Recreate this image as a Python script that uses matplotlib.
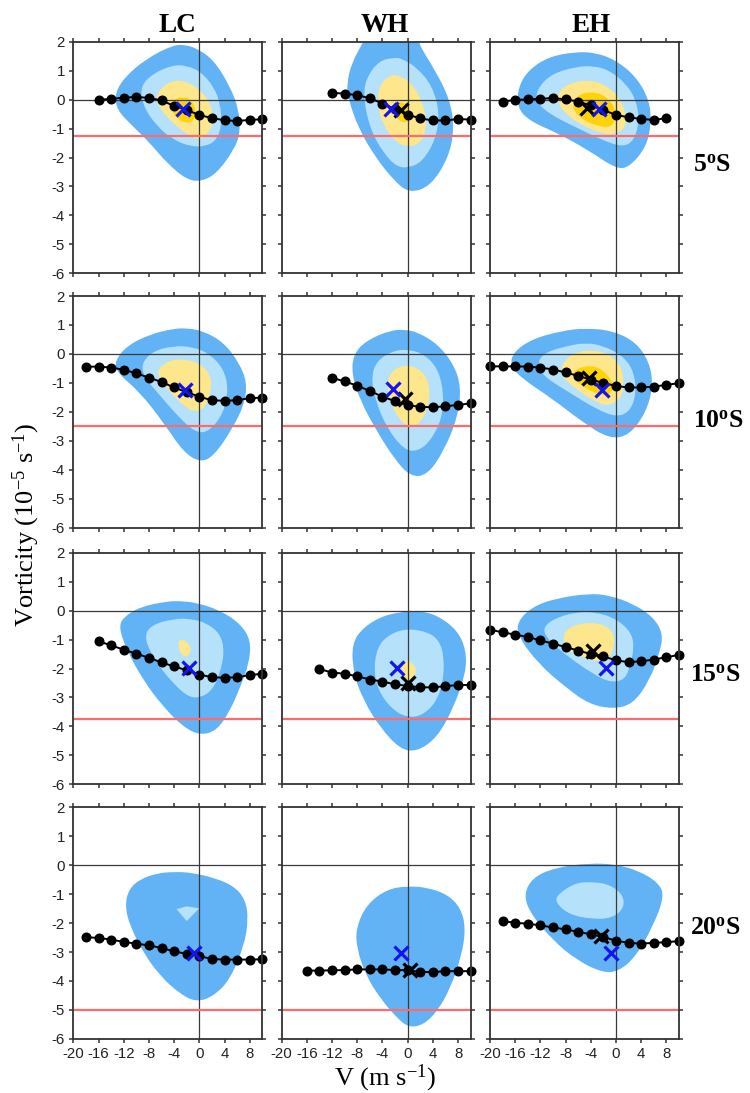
import matplotlib
matplotlib.use("Agg")
import matplotlib.pyplot as plt
from matplotlib.path import Path
from matplotlib.patches import PathPatch

plt.rcParams['axes.unicode_minus'] = False
plt.rcParams['mathtext.fontset'] = 'custom'
plt.rcParams['mathtext.rm'] = 'Liberation Serif'
plt.rcParams['mathtext.bf'] = 'Liberation Serif:bold'
plt.rcParams['mathtext.it'] = 'Liberation Serif:italic'

# ---------------- data ----------------
regions = ["LC", "WH", "EH"]
latitudes = ["5", "10", "15", "20"]
threshold = [-1.25, -2.5, -3.75, -5.0]
xticks = [-20, -16, -12, -8, -4, 0, 4, 8]
yticks = [2, 1, 0, -1, -2, -3, -4, -5, -6]

# dotted curves: first V of each curve (step 2 m/s) and vorticity values
v0_LC5, vort_LC5 = -16, [0.0, 0.02, 0.07, 0.09, 0.06, -0.03, -0.22, -0.36, -0.53, -0.64, -0.71, -0.74, -0.70, -0.68]
v0_WH5, vort_WH5 = -12, [0.23, 0.21, 0.15, 0.05, -0.14, -0.33, -0.52, -0.65, -0.72, -0.72, -0.67, -0.69]
v0_EH5, vort_EH5 = -18, [-0.07, -0.01, 0.01, 0.03, 0.05, 0.01, -0.07, -0.2, -0.36, -0.53, -0.61, -0.67, -0.70, -0.64]
v0_LC10, vort_LC10 = -18, [-0.44, -0.44, -0.47, -0.55, -0.67, -0.82, -0.97, -1.16, -1.32, -1.48, -1.6, -1.62, -1.6, -1.53, -1.51]
v0_WH10, vort_WH10 = -12, [-0.83, -0.95, -1.1, -1.28, -1.48, -1.63, -1.77, -1.83, -1.84, -1.81, -1.76, -1.71]
v0_EH10, vort_EH10 = -20, [-0.43, -0.43, -0.43, -0.44, -0.47, -0.54, -0.64, -0.76, -0.89, -1.0, -1.11, -1.16, -1.16, -1.13, -1.07, -1.01]
v0_LC15, vort_LC15 = -16, [-1.06, -1.2, -1.35, -1.49, -1.63, -1.79, -1.93, -2.06, -2.21, -2.3, -2.32, -2.3, -2.23, -2.18]
v0_WH15, vort_WH15 = -14, [-2.02, -2.14, -2.18, -2.27, -2.38, -2.45, -2.55, -2.6, -2.65, -2.65, -2.61, -2.57, -2.57]
v0_EH15, vort_EH15 = -20, [-0.66, -0.75, -0.83, -0.91, -1.03, -1.14, -1.26, -1.38, -1.5, -1.58, -1.72, -1.78, -1.75, -1.69, -1.61, -1.53]
v0_LC20, vort_LC20 = -18, [-2.49, -2.51, -2.57, -2.65, -2.71, -2.77, -2.86, -2.98, -3.06, -3.14, -3.24, -3.26, -3.26, -3.26, -3.25]
v0_WH20, vort_WH20 = -16, [-3.64, -3.64, -3.63, -3.62, -3.6, -3.6, -3.6, -3.62, -3.63, -3.69, -3.69, -3.66, -3.66, -3.66]
v0_EH20, vort_EH20 = -18, [-1.93, -1.99, -2.02, -2.08, -2.15, -2.22, -2.3, -2.39, -2.48, -2.61, -2.68, -2.71, -2.68, -2.66, -2.62]

# cross markers (V, vorticity); None = absent
bluex_LC5, blackx_LC5 = (-2.6, -0.33), None
bluex_WH5, blackx_WH5 = (-2.6, -0.33), (-1.0, -0.35)
bluex_EH5, blackx_EH5 = (-2.7, -0.33), (-4.6, -0.30)
bluex_LC10, blackx_LC10 = (-2.3, -1.25), None
bluex_WH10, blackx_WH10 = (-2.3, -1.22), (-0.4, -1.57)
bluex_EH10, blackx_EH10 = (-2.2, -1.23), (-4.3, -0.83)
bluex_LC15, blackx_LC15 = (-1.6, -1.98), None
bluex_WH15, blackx_WH15 = (-1.7, -1.98), (0.0, -2.51)
bluex_EH15, blackx_EH15 = (-1.6, -1.98), (-3.7, -1.41)
bluex_LC20, blackx_LC20 = (-0.9, -3.02), None
bluex_WH20, blackx_WH20 = (-1.1, -3.03), (0.3, -3.63)
bluex_EH20, blackx_EH20 = (-0.8, -3.03), (-2.4, -2.43)

# density contour outlines (V, vorticity), levels 1 (outer) .. 5 (inner)
lev1_LC5 = [(-4.1, 1.89), (-8.3, 1.43), (-11.8, 0.79), (-13.4, 0.22), (-13.1, -0.36), (-10.5, -0.93), (-7.8, -1.51), (-5.1, -2.2), (-2.0, -2.77), (0.4, -2.83), (2.8, -2.54), (5.5, -1.74), (6.5, -1.16), (6.3, -0.36), (4.9, 0.45), (2.3, 1.37), (-0.4, 1.77), (-2.2, 1.89)]
lev2_LC5 = [(-4.1, 1.2), (-7.3, 0.91), (-9.4, 0.45), (-8.9, -0.24), (-6.7, -0.93), (-4.1, -1.39), (-1.4, -1.62), (1.0, -1.62), (2.8, -1.39), (3.6, -0.82), (3.3, -0.13), (2.3, 0.45), (0.2, 0.97), (-2.0, 1.17)]
lev3_LC5 = [(-4.1, 0.68), (-6.2, 0.39), (-7.0, -0.01), (-5.7, -0.47), (-3.6, -0.93), (-1.4, -1.28), (0.2, -1.39), (1.5, -1.16), (2.3, -0.70), (1.8, -0.13), (0.2, 0.33), (-2.0, 0.62)]
lev4_LC5 = [(-2.8, 0.1), (-4.1, 0.0), (-4.6, -0.36), (-3.0, -0.76), (-1.2, -0.82), (-0.4, -0.47), (-1.2, 0.0)]

lev1_WH5 = [(-6.5, 2.3), (-7.0, 2.0), (-8.9, 1.28), (-9.7, 0.5), (-9.4, 0.0), (-7.8, -1.0), (-5.1, -2.0), (-2.2, -2.79), (0.2, -3.23), (3.6, -3.0), (6.5, -2.0), (7.4, -1.0), (6.7, 0.0), (4.4, 1.0), (1.5, 2.0), (2.0, 2.3)]
lev2_WH5 = [(-2.2, 1.45), (-4.6, 1.34), (-6.7, 0.7), (-7.0, 0.0), (-5.9, -1.05), (-3.8, -1.86), (-1.7, -2.33), (0.2, -2.35), (2.3, -2.15), (4.4, -1.4), (5.1, -0.47), (3.9, 0.47), (1.5, 1.1), (-0.9, 1.42)]
lev3_WH5 = [(-2.8, 0.87), (-4.6, 0.47), (-4.8, -0.23), (-3.8, -0.93), (-1.7, -1.51), (0.4, -1.65), (2.3, -1.45), (3.1, -0.81), (2.3, -0.06), (1.0, 0.47), (-0.9, 0.81)]
lev4_WH5 = [(-1.8, -0.1), (-2.2, -0.5), (-1.0, -0.8), (0.3, -0.75), (0.5, -0.4), (-0.5, -0.1)]

lev1_EH5 = [(-6.4, 1.65), (-10.7, 1.48), (-13.9, 1.02), (-15.5, 0.44), (-15.7, -0.25), (-13.9, -0.72), (-9.1, -1.18), (-4.3, -1.76), (0.0, -2.39), (2.1, -2.34), (4.8, -1.64), (5.6, -0.83), (5.3, -0.02), (3.2, 0.79), (0.0, 1.36), (-3.2, 1.62)]
lev2_EH5 = [(-6.4, 1.13), (-10.1, 0.9), (-12.3, 0.44), (-12.8, -0.02), (-10.7, -0.49), (-6.4, -0.95), (-2.1, -1.41), (1.1, -1.64), (2.9, -1.41), (3.7, -0.72), (3.2, -0.02), (1.6, 0.55), (-1.1, 1.02), (-3.7, 1.17)]
lev3_EH5 = [(-6.9, 0.61), (-9.1, 0.32), (-9.3, -0.14), (-7.5, -0.6), (-4.3, -1.01), (-1.1, -1.24), (1.3, -1.06), (1.7, -0.6), (0.8, -0.02), (-1.1, 0.44), (-3.7, 0.67)]
lev4_EH5 = [(-5.9, 0.21), (-7.2, -0.25), (-5.3, -0.72), (-2.1, -0.97), (-0.3, -0.89), (0.0, -0.37), (-1.1, 0.03), (-3.2, 0.27)]
lev5_EH5 = [(-4.6, 0.0), (-4.8, -0.2), (-3.8, -0.35), (-3.0, -0.2), (-3.4, 0.02)]

lev1_LC10 = [(-4.1, 0.87), (-7.8, 0.68), (-11.5, 0.28), (-13.4, -0.24), (-13.1, -0.64), (-9.4, -1.33), (-5.7, -2.37), (-2.5, -3.4), (0.2, -3.75), (2.3, -3.52), (4.9, -2.71), (7.1, -1.79), (7.6, -0.99), (6.3, -0.3), (3.9, 0.39), (0.7, 0.79), (-2.0, 0.89)]
lev2_LC10 = [(-4.1, 0.28), (-7.3, 0.1), (-9.1, -0.3), (-8.9, -0.76), (-6.2, -1.45), (-3.0, -2.25), (-0.4, -2.74), (1.7, -2.66), (3.9, -2.02), (4.6, -1.22), (3.9, -0.53), (1.7, -0.01), (-0.9, 0.24)]
lev3_LC10 = [(-4.1, -0.18), (-6.2, -0.41), (-6.7, -0.76), (-4.6, -1.33), (-2.5, -1.79), (-0.9, -2.0), (0.7, -1.91), (1.7, -1.45), (2.0, -0.87), (0.7, -0.41), (-1.4, -0.21)]

lev1_WH10 = [(-2.8, 0.81), (-6.5, 0.47), (-8.6, 0.0), (-8.9, -0.7), (-7.5, -1.63), (-4.9, -2.67), (-2.2, -3.6), (0.4, -4.24), (3.1, -4.19), (5.7, -3.37), (7.9, -2.21), (8.5, -1.16), (7.3, -0.35), (4.7, 0.35), (1.5, 0.76), (-0.6, 0.84)]
lev2_WH10 = [(-2.2, 0.12), (-4.9, -0.23), (-5.8, -0.81), (-5.1, -1.63), (-3.3, -2.56), (-0.6, -3.31), (1.5, -3.37), (3.6, -3.02), (5.5, -2.21), (5.7, -1.28), (4.7, -0.47), (2.5, 0.0), (0.2, 0.15)]
lev3_WH10 = [(-1.2, -0.41), (-3.0, -0.7), (-3.3, -1.28), (-2.2, -1.98), (-0.4, -2.5), (1.5, -2.5), (3.1, -1.98), (3.6, -1.28), (2.8, -0.7), (0.9, -0.41)]

lev1_EH10 = [(-8.5, 0.8), (-13.3, 0.52), (-16.3, 0.06), (-16.8, -0.4), (-14.9, -0.86), (-10.1, -1.55), (-5.3, -2.36), (-1.1, -2.93), (2.1, -2.82), (4.8, -2.01), (5.9, -1.09), (5.3, -0.29), (3.2, 0.4), (-0.5, 0.8), (-4.8, 0.89)]
lev2_EH10 = [(-7.5, 0.29), (-11.2, 0.06), (-12.5, -0.29), (-11.7, -0.75), (-7.5, -1.32), (-3.2, -1.9), (0.0, -2.18), (2.1, -2.01), (3.2, -1.44), (2.9, -0.63), (1.1, -0.06), (-2.1, 0.29), (-4.8, 0.38)]
lev3_EH10 = [(-6.4, 0.06), (-8.5, -0.29), (-8.8, -0.75), (-6.4, -1.21), (-3.2, -1.67), (-1.1, -1.8), (0.8, -1.55), (1.3, -0.98), (0.8, -0.4), (-1.1, 0.0), (-3.7, 0.14)]
lev4_EH10 = [(-5.9, -0.46), (-7.2, -0.75), (-5.6, -1.09), (-3.2, -1.38), (-1.1, -1.44), (-0.3, -1.15), (-1.1, -0.75), (-3.2, -0.4)]

lev1_LC15 = [(-5.1, 0.32), (-9.4, 0.13), (-12.0, -0.22), (-12.8, -0.57), (-11.5, -1.37), (-8.9, -2.41), (-5.7, -3.33), (-2.5, -4.03), (0.2, -4.31), (2.8, -4.14), (4.9, -3.45), (6.5, -2.64), (7.9, -1.83), (8.2, -1.03), (6.5, -0.45), (3.3, 0.01), (-0.4, 0.27), (-3.0, 0.33)]
lev2_LC15 = [(-4.1, -0.28), (-7.8, -0.51), (-8.8, -0.97), (-6.7, -1.83), (-4.1, -2.53), (-1.7, -2.99), (0.2, -3.01), (2.0, -2.76), (3.3, -2.18), (4.0, -1.37), (3.3, -0.8), (1.2, -0.43), (-1.4, -0.28)]
lev3_LC15 = [(-3.3, -1.0), (-2.0, -1.03), (-1.2, -1.37), (-2.0, -1.63), (-3.0, -1.49), (-3.3, -1.26)]

lev1_WH15 = [(0.0, -0.02), (-3.8, -0.16), (-7.0, -0.57), (-8.9, -1.14), (-8.6, -2.18), (-7.0, -3.11), (-4.4, -4.03), (-1.2, -4.79), (1.5, -4.87), (4.7, -4.38), (7.3, -3.34), (9.2, -2.18), (9.3, -1.38), (7.9, -0.68), (4.7, -0.16), (2.0, -0.02)]
lev2_WH15 = [(0.0, -0.62), (-2.8, -0.8), (-4.9, -1.26), (-5.4, -2.18), (-4.4, -2.88), (-2.2, -3.46), (0.0, -3.69), (2.2, -3.63), (4.3, -3.23), (5.6, -2.53), (5.8, -1.61), (5.0, -1.03), (3.2, -0.74)]
lev3_WH15 = [(0.0, -1.66), (1.5, -2.01), (1.0, -2.3), (-0.3, -2.47), (-1.1, -2.13), (-0.8, -1.84)]

lev1_EH15 = [(-4.3, 0.59), (-9.6, 0.42), (-13.3, 0.13), (-15.7, -0.39), (-15.5, -0.91), (-12.3, -1.84), (-8.0, -2.65), (-4.3, -3.23), (-0.5, -3.4), (2.7, -3.23), (5.3, -2.42), (6.9, -1.49), (7.5, -0.8), (5.9, -0.22), (2.7, 0.24), (-1.1, 0.53)]
lev2_EH15 = [(-6.4, -0.05), (-9.9, -0.28), (-11.7, -0.62), (-10.7, -1.03), (-7.5, -1.61), (-3.7, -2.18), (-1.1, -2.47), (1.1, -2.42), (2.1, -2.07), (2.9, -1.26), (2.4, -0.74), (0.0, -0.28), (-3.2, -0.05)]
lev3_EH15 = [(-4.3, -0.39), (-7.5, -0.57), (-8.5, -0.91), (-7.7, -1.38), (-5.3, -1.61), (-2.7, -1.78), (-1.1, -1.66), (-0.3, -1.26), (-0.3, -0.8), (-1.6, -0.51)]

lev1_LC20 = [(-6.7, -0.28), (-9.4, -0.48), (-11.2, -0.83), (-11.8, -1.41), (-11.0, -2.1), (-8.9, -3.02), (-6.2, -3.83), (-3.0, -4.46), (-0.4, -4.73), (2.3, -4.52), (4.9, -3.94), (7.1, -2.79), (7.8, -1.87), (7.3, -1.18), (5.5, -0.72), (2.3, -0.43), (-1.4, -0.25), (-4.1, -0.23)]
lev2_LC20 = [(-3.6, -1.52), (-2.0, -1.42), (0.0, -1.49), (-2.0, -1.93)]

lev1_WH20 = [(0.0, -0.72), (-3.3, -0.83), (-6.5, -1.35), (-8.2, -2.16), (-8.1, -2.86), (-6.7, -3.78), (-4.4, -4.59), (-1.7, -5.28), (0.2, -5.61), (2.5, -5.51), (4.7, -5.05), (6.8, -4.24), (8.6, -3.09), (9.2, -2.16), (8.4, -1.47), (6.3, -1.01), (3.1, -0.77)]

lev1_EH20 = [(-4.3, 0.07), (-9.6, -0.08), (-13.3, -0.43), (-14.7, -1.06), (-13.3, -1.76), (-10.1, -2.57), (-6.4, -3.26), (-2.1, -3.72), (0.5, -3.66), (3.2, -3.14), (5.9, -2.1), (7.7, -1.06), (6.7, -0.6), (3.7, -0.2), (0.0, 0.03)]
lev2_EH20 = [(-6.4, -0.6), (-9.3, -1.01), (-9.6, -1.29), (-7.5, -1.7), (-3.7, -1.87), (-0.5, -1.82), (1.3, -1.47), (1.1, -1.01), (-1.1, -0.66), (-3.7, -0.58)]

level_colors = ['#62b3f6', '#b5e1fb', '#fde68c', '#fed406', '#f59a5a']


def outline_patch(poly, color, z):
    """Closed outline through the read-off vertices, rounded with quadratic Bezier segments."""
    n = len(poly)
    if n < 5:
        return PathPatch(Path(list(poly) + [poly[0]], [Path.MOVETO] + [Path.LINETO] * (n - 1) + [Path.CLOSEPOLY]),
                         facecolor=color, lw=0, zorder=z)
    mids = [((poly[i][0] + poly[(i + 1) % n][0]) / 2, (poly[i][1] + poly[(i + 1) % n][1]) / 2) for i in range(n)]
    verts = [mids[-1]]
    codes = [Path.MOVETO]
    for i in range(n):
        verts += [poly[i], mids[i]]
        codes += [Path.CURVE3, Path.CURVE3]
    verts.append(mids[-1])
    codes.append(Path.CLOSEPOLY)
    return PathPatch(Path(verts, codes), facecolor=color, lw=0, zorder=z)


# ---------------- figure ----------------
W, H = 750, 1093
fig = plt.figure(figsize=(W / 100, H / 100), dpi=100)
lefts_px = [73.3, 281.7, 490.0]
tops_px = [41.7, 296.0, 552.7, 807.3]
aw_px, ah_px = 189.0, 231.6

g = globals()
serif = 'Liberation Serif'
sans = 'Liberation Sans'

for r, lat in enumerate(latitudes):
    for c, reg in enumerate(regions):
        key = f"{reg}{lat}"
        ax = fig.add_axes([lefts_px[c] / W, 1 - (tops_px[r] + ah_px) / H, aw_px / W, ah_px / H])
        ax.set_xlim(-20, 10)
        ax.set_ylim(-6, 2)
        for k in range(1, 6):
            poly = g.get(f"lev{k}_{key}")
            if poly is None:
                continue
            ax.add_patch(outline_patch(poly, level_colors[k - 1], 1 + k * 0.1))
        ax.axhline(0, color='#3a3a3a', lw=0.9, zorder=3)
        ax.axvline(0, color='#3a3a3a', lw=0.9, zorder=3)
        ax.axhline(threshold[r], color='#ff6b6b', lw=1.6, zorder=4)
        vort = g[f"vort_{key}"]
        v0 = g[f"v0_{key}"]
        vv = [v0 + 2 * i for i in range(len(vort))]
        ax.plot(vv, vort, '-o', color='black', lw=1.4, ms=6.2, zorder=5, clip_on=False)
        bx = g[f"blackx_{key}"]
        if bx is not None:
            ax.plot([bx[0]], [bx[1]], marker='x', ms=10, mew=2.3, color='black', ls='none', zorder=6)
        ux = g[f"bluex_{key}"]
        ax.plot([ux[0]], [ux[1]], marker='x', ms=10, mew=2.3, color='#1414f0', ls='none', zorder=7)

        ax.set_xticks(xticks)
        ax.set_yticks(yticks)
        ax.tick_params(direction='out', length=3, width=1.1, color='#333333',
                       top=True, right=True, labelsize=10.8, pad=3, labelcolor='#222222')
        ax.tick_params(axis='x', labelbottom=(r == 3))
        ax.tick_params(axis='y', labelleft=(c == 0))
        for lab in ax.get_xticklabels() + ax.get_yticklabels():
            lab.set_fontfamily(sans)
        for sp in ax.spines.values():
            sp.set_color('#333333')
            sp.set_linewidth(1.3)
            sp.set_zorder(8)

# column titles
title_x = [177, 385, 591]
for c, reg in enumerate(regions):
    fig.text(title_x[c] / W, 1 - 31.7 / H, reg, ha='center', va='baseline',
             fontsize=19.5, fontweight='bold', family=serif)

# row labels
row_lab_x = [693, 693, 690, 690]
row_lab_base = [172, 428, 682, 935]
for r, lat in enumerate(latitudes):
    fig.text(row_lab_x[r] / W, 1 - row_lab_base[r] / H, r"$\mathbf{" + lat + r"^{o}S}$",
             ha='left', va='baseline', fontsize=18.5)

# axis labels
fig.text(385 / W, 1 - 1085 / H, r"V (m s$^{-1}$)", ha='center', va='baseline',
         fontsize=19, family=serif)
fig.text(26.5 / W, 1 - 525 / H, r"Vorticity (10$^{-5}$ s$^{-1}$)", ha='center', va='center',
         rotation=90, fontsize=19, family=serif)

fig.savefig("out.png", dpi=100)
